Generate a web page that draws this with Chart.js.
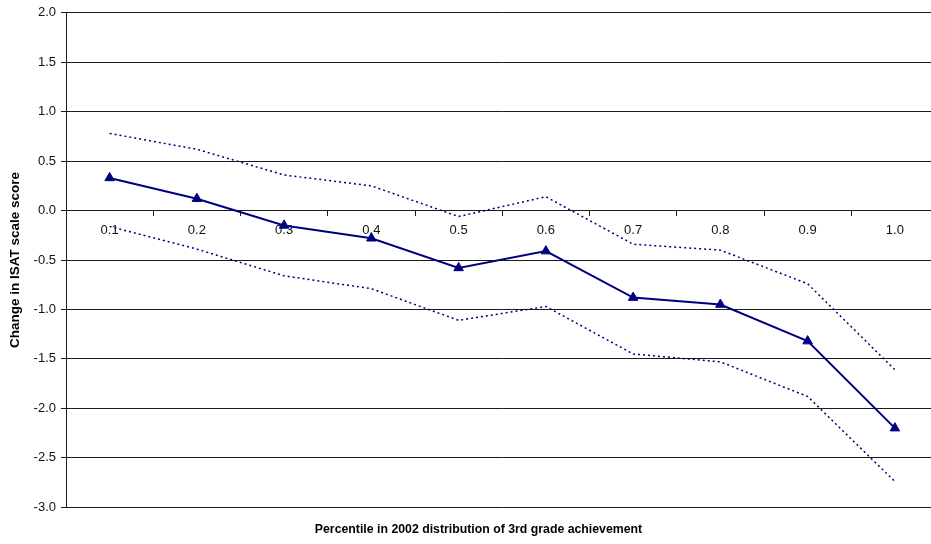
<!DOCTYPE html>
<html>
<head>
<meta charset="utf-8">
<script src="https://cdn.jsdelivr.net/npm/chart.js@4/dist/chart.umd.min.js"></script>
<style>
  html, body { margin: 0; padding: 0; background: #fff; overflow: hidden; }
  #wrap { width: 945px; height: 544px; }
</style>
</head>
<body>
<div id="wrap"><canvas id="c" width="945" height="544"></canvas></div>
<script>
// Percentile bins of the 2002 3rd grade achievement distribution
const percentiles = ['0.1', '0.2', '0.3', '0.4', '0.5', '0.6', '0.7', '0.8', '0.9', '1.0'];

// Point estimates of the change in ISAT scale score
const estimate = [0.33, 0.12, -0.15, -0.28, -0.58, -0.41, -0.88, -0.95, -1.32, -2.20];

// Upper and lower confidence bounds
const upperBound = [0.78, 0.62, 0.36, 0.25, -0.06, 0.14, -0.34, -0.40, -0.74, -1.61];
const lowerBound = [-0.16, -0.39, -0.66, -0.79, -1.11, -0.97, -1.45, -1.53, -1.88, -2.74];

// Value axis ticks
const yTicks = [2.0, 1.5, 1.0, 0.5, 0.0, -0.5, -1.0, -1.5, -2.0, -2.5, -3.0];

const navy = '#000080';
const gridColor = '#1a1a1a';
const fontFamily = "'Liberation Sans', Arial, sans-serif";

const boundStyle = {
  borderColor: navy,
  borderWidth: 1.5,
  borderDash: [2, 3],
  pointRadius: 0,
  pointHoverRadius: 0,
  fill: false,
  tension: 0
};

new Chart(document.getElementById('c'), {
  type: 'line',
  data: {
    labels: percentiles,
    datasets: [
      Object.assign({ label: 'Upper bound', data: upperBound }, boundStyle),
      Object.assign({ label: 'Lower bound', data: lowerBound }, boundStyle),
      {
        label: 'Estimate',
        data: estimate,
        borderColor: navy,
        backgroundColor: navy,
        borderWidth: 2,
        pointStyle: 'triangle',
        pointRadius: 5.5,
        pointBackgroundColor: navy,
        pointBorderColor: navy,
        pointBorderWidth: 1,
        fill: false,
        tension: 0
      }
    ]
  },
  options: {
    responsive: false,
    animation: false,
    events: [],
    layout: { padding: { top: 12, right: 0, left: 12, bottom: 0 } },
    plugins: {
      legend: { display: false },
      tooltip: { enabled: false },
      title: {
        display: true,
        position: 'bottom',
        text: 'Percentile in 2002 distribution of 3rd grade achievement',
        color: '#000',
        font: { family: fontFamily, size: 12.3, weight: 'bold' },
        padding: { top: 15, bottom: 7 }
      }
    },
    scales: {
      x: {
        type: 'category',
        position: { y: 0 },
        offset: true,
        grid: {
          display: true,
          offset: true,
          drawOnChartArea: false,
          drawTicks: true,
          tickLength: 5,
          color: gridColor,
          lineWidth: 1
        },
        border: { display: true, color: gridColor, width: 1 },
        ticks: {
          color: '#111',
          font: { family: fontFamily, size: 13 },
          padding: 7,
          maxRotation: 0,
          autoSkip: false
        },
        afterFit(scale) { scale.height = 0; }
      },
      y: {
        min: -3,
        max: 2,
        afterBuildTicks(scale) {
          scale.ticks = yTicks.map(v => ({ value: v }));
        },
        grid: {
          color: gridColor,
          lineWidth: 1,
          tickLength: 5,
          drawTicks: true
        },
        border: { display: true, color: gridColor, width: 1 },
        ticks: {
          color: '#111',
          font: { family: fontFamily, size: 13 },
          padding: 5,
          callback: v => v.toFixed(1)
        },
        title: {
          display: true,
          text: 'Change in ISAT scale score',
          color: '#000',
          font: { family: fontFamily, size: 13.5, weight: 'bold' },
          padding: { top: -5, bottom: 0 }
        },
        afterFit(scale) { scale.width = 54; }
      }
    }
  }
});
</script>
</body>
</html>
